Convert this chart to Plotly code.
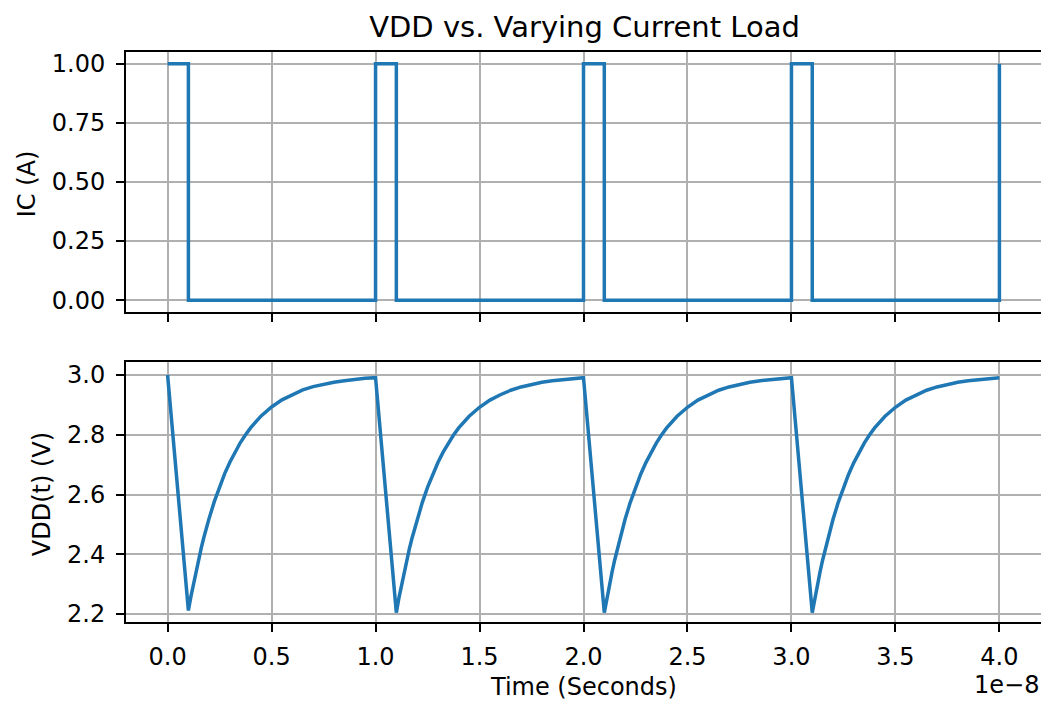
import plotly.graph_objects as go
from plotly.subplots import make_subplots

# Time axis values are in units of 1e-8 seconds
ic_time = [0.0, 0.1, 1.0, 1.1, 2.0, 2.1, 3.0, 3.1, 4.0]
ic_amps = [1.0, 0.0, 1.0, 0.0, 1.0, 0.0, 1.0, 0.0, 1.0]

vdd_time = [
    0.0, 0.1, 0.1125, 0.125, 0.1375, 0.15, 0.1625, 0.175, 0.1875, 0.2, 0.225, 0.25, 0.275, 0.3, 0.325,
    0.35, 0.375, 0.4, 0.45, 0.5, 0.55, 0.6, 0.65, 0.7, 0.75, 0.8, 0.85, 0.9, 0.95,
    1.0, 1.1, 1.1125, 1.125, 1.1375, 1.15, 1.1625, 1.175, 1.1875, 1.2, 1.225, 1.25, 1.275, 1.3, 1.325,
    1.35, 1.375, 1.4, 1.45, 1.5, 1.55, 1.6, 1.65, 1.7, 1.75, 1.8, 1.85, 1.9, 1.95,
    2.0, 2.1, 2.1125, 2.125, 2.1375, 2.15, 2.1625, 2.175, 2.1875, 2.2, 2.225, 2.25, 2.275, 2.3, 2.325,
    2.35, 2.375, 2.4, 2.45, 2.5, 2.55, 2.6, 2.65, 2.7, 2.75, 2.8, 2.85, 2.9, 2.95,
    3.0, 3.1, 3.1125, 3.125, 3.1375, 3.15, 3.1625, 3.175, 3.1875, 3.2, 3.225, 3.25, 3.275, 3.3, 3.325,
    3.35, 3.375, 3.4, 3.45, 3.5, 3.55, 3.6, 3.65, 3.7, 3.75, 3.8, 3.85, 3.9, 3.95,
    4.0,
]
vdd_volts = [
    3.000, 2.212, 2.260, 2.304, 2.347, 2.386, 2.423, 2.458, 2.491, 2.521, 2.577, 2.627, 2.671, 2.709, 2.744,
    2.774, 2.800, 2.824, 2.863, 2.893, 2.917, 2.935, 2.950, 2.961, 2.969, 2.976, 2.981, 2.986, 2.989,
    2.991, 2.205, 2.254, 2.298, 2.341, 2.381, 2.418, 2.453, 2.486, 2.517, 2.574, 2.624, 2.668, 2.707, 2.742,
    2.772, 2.799, 2.823, 2.862, 2.892, 2.916, 2.934, 2.949, 2.960, 2.969, 2.976, 2.981, 2.985, 2.989,
    2.991, 2.205, 2.254, 2.298, 2.341, 2.381, 2.418, 2.453, 2.486, 2.517, 2.574, 2.624, 2.668, 2.707, 2.742,
    2.772, 2.799, 2.823, 2.862, 2.892, 2.916, 2.934, 2.949, 2.960, 2.969, 2.976, 2.981, 2.985, 2.989,
    2.991, 2.205, 2.254, 2.298, 2.341, 2.381, 2.418, 2.453, 2.486, 2.517, 2.574, 2.624, 2.668, 2.707, 2.742,
    2.772, 2.799, 2.823, 2.862, 2.892, 2.916, 2.934, 2.949, 2.960, 2.969, 2.976, 2.981, 2.985, 2.989,
    2.991,
]

title_text = "VDD vs. Varying Current Load"
top_ylabel = "IC (A)"
bottom_ylabel = "VDD(t) (V)"
xlabel = "Time (Seconds)"
offset_text = "1e\u22128"

BLUE = "#1f77b4"
FONT = "DejaVu Sans"
# page body has an 8px margin; the figure is sized so it fills the window
OFF = 8
W, H = 1049 - OFF, 702 - OFF
ML, MR, MT, MB = 126 - OFF, 6, 52 - OFF, 80
PH = H - MT - MB
PW = W - ML - MR


def py(screen_y):
    return (702 - MB - screen_y) / PH


def px(screen_x):
    return (screen_x - 126) / PW


fig = make_subplots(rows=2, cols=1, shared_xaxes=False)
fig.add_trace(go.Scatter(x=ic_time, y=ic_amps, mode="lines", line=dict(color=BLUE, width=3.5, shape="hv"),
                         showlegend=False), row=1, col=1)
fig.add_trace(go.Scatter(x=vdd_time, y=vdd_volts, mode="lines", line=dict(color=BLUE, width=3.5),
                         showlegend=False), row=2, col=1)

axis_common = dict(showline=True, linecolor="black", linewidth=2, mirror=True,
                   ticks="outside", ticklen=8, tickwidth=2, tickcolor="black",
                   showgrid=True, gridcolor="#b0b0b0", gridwidth=1.8, zeroline=False,
                   tickfont=dict(family=FONT, size=24, color="black"), ticklabelstandoff=6)

top_dom = [py(312), 1.0]
bot_dom = [0.0, py(362)]

fig.update_layout(
    width=W, height=H, plot_bgcolor="white", paper_bgcolor="white",
    margin=dict(l=ML, r=MR, t=MT, b=MB),
    font=dict(family=FONT, size=24, color="black"),
    xaxis=dict(axis_common, range=[-0.2, 4.2], dtick=0.5, tick0=0, showticklabels=False, anchor="y"),
    yaxis=dict(axis_common, range=[-0.05, 1.05], dtick=0.25, tick0=0, tickformat=".2f", domain=top_dom, anchor="x"),
    xaxis2=dict(axis_common, range=[-0.2, 4.2], dtick=0.5, tick0=0, tickformat=".1f", anchor="y2",
                ticklabelstandoff=4),
    yaxis2=dict(axis_common, range=[2.1735, 3.0435], dtick=0.2, tick0=2.2, tickformat=".1f", domain=bot_dom, anchor="x2"),
    title=dict(text=title_text, x=((126 + 1043) / 2 - OFF) / W, xanchor="center",
               y=1 - (27 - OFF) / H, yanchor="middle",
               font=dict(family=FONT, size=29, color="black")),
)

fig.add_annotation(text=top_ylabel, xref="paper", yref="paper", x=px(27), y=py(184), textangle=-90,
                   showarrow=False, xanchor="center", yanchor="middle", font=dict(family=FONT, size=24))
fig.add_annotation(text=bottom_ylabel, xref="paper", yref="paper", x=px(42), y=py(494), textangle=-90,
                   showarrow=False, xanchor="center", yanchor="middle", font=dict(family=FONT, size=24))
fig.add_annotation(text=xlabel, xref="paper", yref="paper", x=0.5, y=py(687),
                   showarrow=False, xanchor="center", yanchor="middle", font=dict(family=FONT, size=24))
fig.add_annotation(text=offset_text, xref="paper", yref="paper", x=1.0, y=py(685),
                   showarrow=False, xanchor="right", yanchor="middle", font=dict(family=FONT, size=24))

fig.write_html("out.html")
